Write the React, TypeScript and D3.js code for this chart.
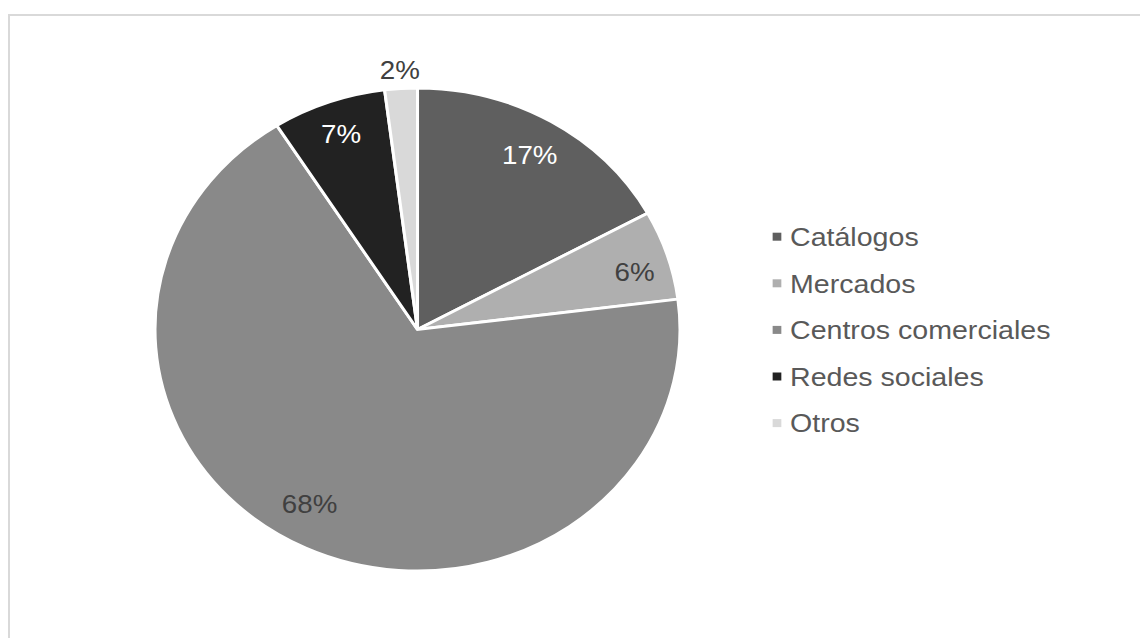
import React from "react";
import * as d3 from "d3";

const categories = ["Catálogos", "Mercados", "Centros comerciales", "Redes sociales", "Otros"];
const values = [17, 6, 68, 7, 2];
const colors = ["#5f5f5f", "#afafaf", "#898989", "#222222", "#d9d9d9"];
const labelColors = ["#ffffff", "#404040", "#404040", "#ffffff", "#404040"];

const W = 1140;
const H = 638;
const SX = 1.087; // horizontal stretch of the original picture
const CX = 417.5 / SX;
const CY = 329.5;
const R = 241.5;
const FONT = "'Liberation Sans', Arial, sans-serif";

// label placement: radius fraction and angle nudge (degrees)
const labelRadius = [0.84, 0.86, 0.83, 0.86, 1.077];
const labelNudge = [0, 2, 4.5, 0, 0];

export default function App() {
  const total = d3.sum(values);
  const pie = d3
    .pie<number>()
    .sort(null)
    .value((d) => d);
  const arcs = pie(values);
  const arc = d3.arc<d3.PieArcDatum<number>>().innerRadius(0).outerRadius(R);

  const legendX = 726.8;
  const legendY0 = 236.7;
  const legendStep = 46.6;

  return (
    <svg
      width={W}
      height={H}
      style={{ position: "absolute", left: 0, top: 0, display: "block" }}
    >
      <rect x={0} y={0} width={W} height={H} fill="#ffffff" />
      <rect
        x={9}
        y={15}
        width={W + 20}
        height={H + 20}
        fill="none"
        stroke="#d9d9d9"
        strokeWidth={2}
      />
      <g transform={`scale(${SX},1)`}>
        <g transform={`translate(${CX},${CY})`}>
          {arcs.map((a, i) => (
            <path
              key={categories[i]}
              d={arc(a) || ""}
              fill={colors[i]}
              stroke="#ffffff"
              strokeWidth={2.8}
              strokeLinejoin="miter"
            />
          ))}
          {arcs.map((a, i) => {
            const mid = (a.startAngle + a.endAngle) / 2 + (labelNudge[i] * Math.PI) / 180;
            const r = R * labelRadius[i];
            const x = Math.sin(mid) * r;
            const y = -Math.cos(mid) * r;
            return (
              <text
                key={"l" + i}
                x={x}
                y={y + 9}
                textAnchor="middle"
                fontFamily={FONT}
                fontSize={25.5}
                fill={labelColors[i]}
              >
                {`${Math.round((values[i] / total) * 100)}%`}
              </text>
            );
          })}
        </g>
        {categories.map((c, i) => {
          const cy = legendY0 + i * legendStep;
          return (
            <g key={"lg" + i}>
              <rect x={legendX - 16} y={cy - 4} width={8} height={8} fill={colors[i]} />
              <text
                x={legendX}
                y={cy + 9.3}
                fontFamily={FONT}
                fontSize={26.3}
                fill="#595959"
              >
                {c}
              </text>
            </g>
          );
        })}
      </g>
    </svg>
  );
}
